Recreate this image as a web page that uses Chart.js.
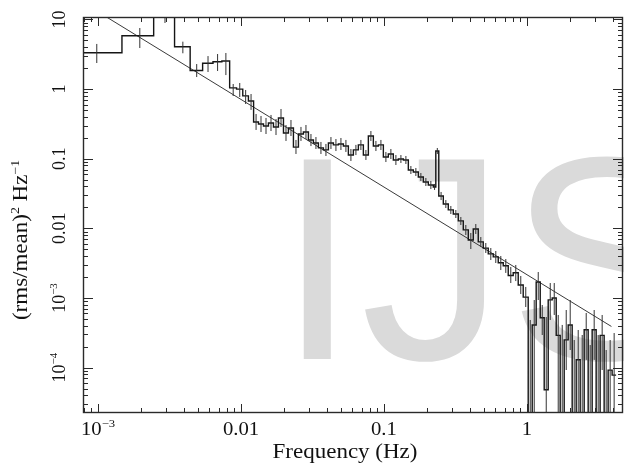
<!DOCTYPE html>
<html>
<head>
<meta charset="utf-8">
<script src="https://cdn.jsdelivr.net/npm/chart.js@4.4.1/dist/chart.umd.min.js"></script>
<style>
  html, body { margin:0; padding:0; background:#fff; }
</style>
</head>
<body>
<canvas id="psd" width="624" height="464"></canvas>
<script>
// ── Data ──
// bin edges in Hz: linear bins up to ~0.012 Hz, log-rebinned above
const binEdges = [
  0.00049, 0.00147, 0.00245, 0.00343, 0.00441, 0.00539, 0.00637, 0.00735, 0.00833, 0.00931, 0.01029, 0.01127, 0.01225,
  0.01325, 0.01436, 0.01556, 0.01687, 0.01828, 0.01982, 0.02147, 0.02327, 0.02522, 0.02733,
  0.02962, 0.03210, 0.03479, 0.03770, 0.04087, 0.04429, 0.04800, 0.05202, 0.05637, 0.06110,
  0.06621, 0.07177, 0.07779, 0.08430, 0.09139, 0.09904, 0.1073, 0.1163, 0.1261, 0.1367,
  0.1481, 0.1605, 0.1739, 0.1885, 0.2043, 0.2214, 0.2305, 0.2418, 0.2601, 0.2818,
  0.3055, 0.3311, 0.3588, 0.3889, 0.4214, 0.4567, 0.4950, 0.5365, 0.5814, 0.6301,
  0.6830, 0.7402, 0.8022, 0.8694, 0.9421, 1.021, 1.089, 1.161, 1.239, 1.321,
  1.409, 1.503, 1.603, 1.709, 1.823, 1.944, 2.073, 2.211, 2.358, 2.515,
  2.682, 2.860, 3.050, 3.252, 3.469, 3.699, 3.945, 4.207
];
// power per bin, (rms/mean)^2/Hz ; 1e-6 = below the plotted range
const power = [
  3.33, 5.85, 13, 4.06, 1.85, 2.35, 2.47, 2.53, 1.04, 1.0, 0.80, 0.675,
  0.337, 0.315, 0.295, 0.326, 0.286, 0.385, 0.234, 0.276, 0.147, 0.227,
  0.242, 0.186, 0.168, 0.143, 0.134, 0.168, 0.158, 0.163, 0.152, 0.113,
  0.134, 0.158, 0.113, 0.212, 0.152, 0.158, 0.106, 0.117, 0.096, 0.099,
  0.096, 0.069, 0.0645, 0.0546, 0.0463, 0.0419, 0.0393, 0.129, 0.0292, 0.0224,
  0.0184, 0.0161, 0.0128, 0.0095, 0.0068, 0.0098, 0.0064, 0.0052, 0.0043, 0.0039,
  0.0032, 0.0029, 0.0021, 0.0023, 0.00154, 0.00103,
  1e-6, 0.00041, 0.0017, 0.00052, 0.000048, 0.00094, 0.001, 0.00029, 1e-6, 0.00025,
  0.00041, 1e-6, 0.00013, 1e-6, 0.00035, 1e-6, 0.00035, 1e-6, 0.00029, 1e-6,
  0.000092, 0.000078
];
const errLo = [
  2.37, 3.89, 8.9, 3.27, 1.49, 1.76, 1.82, 1.59, 0.796, 0.770, 0.611, 0.503,
  0.259, 0.242, 0.2265, 0.250, 0.219, 0.286, 0.180, 0.212, 0.117, 0.180,
  0.192, 0.152, 0.138, 0.117, 0.1095, 0.138, 0.129, 0.1335, 0.125, 0.0928,
  0.113, 0.1335, 0.096, 0.180, 0.129, 0.1335, 0.0897, 0.0991, 0.0813, 0.0869,
  0.084, 0.0604, 0.0565, 0.0479, 0.0406, 0.0367, 0.0356, 0.117, 0.0255, 0.0196,
  0.01608, 0.01409, 0.01118, 0.00803, 0.00505, 0.0083, 0.0054, 0.00443, 0.00351, 0.00318,
  0.00252, 0.00229, 0.00164, 0.00175, 0.00114, 0.000742,
  1e-6, 1e-6, 0.000935, 0.000294, 1e-6, 0.000483, 0.00057, 1e-6, 1e-6, 0.0000924,
  0.000179, 1e-6, 1e-6, 1e-6, 0.000129, 1e-6, 0.000129, 1e-6, 0.0000924, 1e-6,
  1e-6, 1e-6
];
const errHi = [
  4.45, 7.54, 18, 4.8, 2.29, 2.98, 3.19, 3.30, 1.184, 1.224, 0.971, 0.85,
  0.439, 0.411, 0.385, 0.425, 0.372, 0.518, 0.305, 0.360, 0.186, 0.286,
  0.305, 0.2265, 0.205, 0.174, 0.163, 0.205, 0.192, 0.1985, 0.186, 0.138,
  0.158, 0.186, 0.1335, 0.250, 0.180, 0.186, 0.125, 0.138, 0.113, 0.113,
  0.1095, 0.0786, 0.0736, 0.0624, 0.0529, 0.0479, 0.0434, 0.1426, 0.0333, 0.0255,
  0.02095, 0.01835, 0.01456, 0.01118, 0.00858, 0.01155, 0.00751, 0.00616, 0.00522, 0.00473,
  0.00401, 0.00363, 0.00279, 0.00298, 0.00207, 0.00144,
  0.000483, 0.000935, 0.00236, 0.000793, 0.000533, 0.00164, 0.00164, 0.00057, 0.00041, 0.000672,
  0.000935, 0.000249, 0.000347, 0.000294, 0.000609, 0.000211, 0.000672, 0.000294, 0.00057, 0.000179,
  0.000249, 0.000314
];
// power-law fit line end points
const fitFreq  = [0.00115, 3.9];
const fitPower = [10.8, 0.00039];

// axis ticks / labels
const xTickVals   = [0.001, 0.01, 0.1, 1];
const xTickLabels = ['10^−3', '0.01', '0.1', '1'];
const yTickVals   = [1e-4, 1e-3, 0.01, 0.1, 1, 10];
const yTickLabels = ['10^−4', '10^−3', '0.01', '0.1', '1', '10'];
const xTitle = 'Frequency (Hz)';
const yTitle = '(rms/mean)^2 Hz^−1';

// ── build datasets ──
const nBins = power.length;
const stepPts = power.map((p, i) => ({ x: binEdges[i], y: p }));
stepPts.push({ x: binEdges[nBins], y: power[nBins - 1] });

const errPts = [];
power.forEach((p, i) => {
  const c = (binEdges[i] + binEdges[i + 1]) / 2;
  errPts.push({ x: c, y: errLo[i] }, { x: c, y: errHi[i] }, { x: c, y: null });
});

const fitPts = fitFreq.map((f, i) => ({ x: f, y: fitPower[i] }));

// ── text helper: "a^b" -> superscript run ──
function drawText(ctx, str, x, y, rot, size, sx){
  const parts = str.split(/\^(\S+)/);
  const big = size + 'px "Liberation Serif"';
  const small = Math.round(size * 0.62) + 'px "Liberation Serif"';
  ctx.save();
  ctx.translate(x, y);
  ctx.rotate(rot);
  ctx.scale(sx, 1);
  let w = 0;
  const runs = parts.map((t, i) => {
    const sup = i % 2 === 1;
    ctx.font = sup ? small : big;
    const rw = ctx.measureText(t).width;
    w += rw;
    return { t, sup, rw };
  });
  let cx = -w / 2;
  ctx.fillStyle = '#111';
  ctx.textBaseline = 'alphabetic';
  ctx.textAlign = 'left';
  runs.forEach(r => {
    ctx.font = r.sup ? small : big;
    ctx.fillText(r.t, cx, r.sup ? -size * 0.42 : 0);
    cx += r.rw;
  });
  ctx.restore();
}

// ── frame, inward ticks, labels, watermark ──
const frameAndLabels = {
  id: 'frameAndLabels',
  beforeDatasetsDraw(chart){
    const ctx = chart.ctx;
    ctx.save();
    ctx.fillStyle = '#dadada';
    ctx.font = '290px "Liberation Sans"';
    ctx.letterSpacing = '3px';
    ctx.textBaseline = 'alphabetic';
    ctx.fillText('IJS', 277, 359);
    ctx.restore();
  },
  afterDraw(chart){
    const ctx = chart.ctx;
    const { left, right, top, bottom } = chart.chartArea;
    const xs = chart.scales.x, ys = chart.scales.y;

    ctx.save();
    ctx.strokeStyle = '#2a2a2a';
    ctx.lineWidth = 1;
    ctx.beginPath();
    // x ticks (bottom + top)
    for (let d = -4; d <= 1; d++){
      for (let m = 1; m <= 9; m++){
        const v = m * Math.pow(10, d);
        if (v < xs.min || v > xs.max) continue;
        const px = Math.round(xs.getPixelForValue(v)) + 0.5;
        const len = m === 1 ? 9 : 5;
        ctx.moveTo(px, bottom); ctx.lineTo(px, bottom - len);
        ctx.moveTo(px, top);    ctx.lineTo(px, top + len);
      }
    }
    // y ticks (left + right)
    for (let d = -5; d <= 1; d++){
      for (let m = 1; m <= 9; m++){
        const v = m * Math.pow(10, d);
        if (v < ys.min || v > ys.max) continue;
        const py = Math.round(ys.getPixelForValue(v)) + 0.5;
        const len = m === 1 ? 10 : 5;
        ctx.moveTo(left, py);  ctx.lineTo(left + len, py);
        ctx.moveTo(right, py); ctx.lineTo(right - len, py);
      }
    }
    ctx.stroke();

    ctx.lineWidth = 1.4;
    ctx.strokeRect(left + 0.5, top + 0.5, right - left - 1, bottom - top - 1);
    ctx.restore();

    xTickVals.forEach((v, i) => {
      drawText(ctx, xTickLabels[i], xs.getPixelForValue(v), 435, 0, 18, 1.15);
    });
    yTickVals.forEach((v, i) => {
      drawText(ctx, yTickLabels[i], 65, ys.getPixelForValue(v), -Math.PI / 2, 18, 1.0);
    });
    drawText(ctx, xTitle, 345, 458, 0, 20, 1.15);
    drawText(ctx, yTitle, 27, 240, -Math.PI / 2, 20, 1.15);
  }
};

// ── Chart ──
new Chart(document.getElementById('psd'), {
  type: 'line',
  data: {
    datasets: [
      {
        label: 'errors',
        data: errPts,
        borderColor: '#333',
        borderWidth: 1,
        pointRadius: 0,
        spanGaps: false
      },
      {
        label: 'PDS',
        data: stepPts,
        stepped: true,
        borderColor: '#151515',
        borderWidth: 1.4,
        pointRadius: 0
      },
      {
        label: 'fit',
        data: fitPts,
        borderColor: '#3a3a3a',
        borderWidth: 1,
        pointRadius: 0
      }
    ]
  },
  options: {
    responsive: false,
    devicePixelRatio: 1,
    animation: false,
    events: [],
    layout: { padding: { left: 83, right: 1, top: 17, bottom: 51 } },
    plugins: { legend: { display: false }, tooltip: { enabled: false } },
    scales: {
      x: { type: 'logarithmic', min: 0.000785, max: 4.7, display: false },
      y: { type: 'logarithmic', min: 0.0000223, max: 10.85, display: false }
    }
  },
  plugins: [frameAndLabels]
});
</script>
</body>
</html>
